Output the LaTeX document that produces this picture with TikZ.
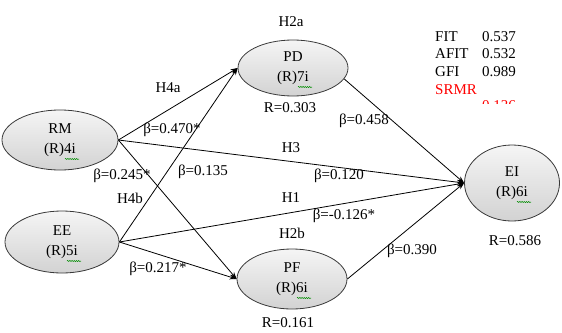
\documentclass[tikz,border=0pt]{standalone}
\usepackage{fontspec}
\setmainfont{Liberation Serif}
\usetikzlibrary{shapes.geometric,arrows.meta,decorations.pathmorphing}
\tikzset{
	latent/.style={ellipse,draw=gray!45!black,line width=0.8pt,top color=gray!8,bottom color=gray!35,
		inner sep=0pt,align=center,font=\fontsize{15}{20}\selectfont},
	link/.style={line width=0.8pt,-{Stealth[length=7pt,width=5pt]}},
	lbl/.style={font=\fontsize{15}{18}\selectfont,inner sep=0pt},
	squig/.style={green!55!black,line width=0.5pt,decorate,decoration={snake,amplitude=0.6pt,segment length=2.2pt}}
}
\begin{document}
\begin{tikzpicture}[x=1pt,y=-1pt]
\useasboundingbox (0,0) rectangle (562,332);
% constructs
\node[latent,minimum width=116pt,minimum height=60pt] (RM) at (60,140) {RM\\(R)4i};
\node[latent,minimum width=114pt,minimum height=62pt] (EE) at (62,242) {EE\\(R)5i};
\node[latent,minimum width=110pt,minimum height=56pt] (PD) at (293,68) {PD\\(R)7i};
\node[latent,minimum width=110pt,minimum height=60pt] (PF) at (292,279) {PF\\(R)6i};
\node[latent,minimum width=95pt,minimum height=76pt] (EI) at (512,183) {EI\\(R)6i};
\foreach \n in {RM,EE,PD,PF,EI} {
	\draw[squig] ([shift={(5,19)}]\n.center) -- ++(14,0);
}
% paths
\draw[link] (RM.east) -- (PD.west);
\draw[link] (EE.east) -- (PD.west);
\draw[link] (RM.east) -- (PF.west);
\draw[link] (EE.east) -- (PF.west);
\draw[link] (RM.east) -- (EI.west);
\draw[link] (EE.east) -- (EI.west);
\draw[link] (PD.-12) -- (EI.west);
\draw[link] (PF.east) -- (EI.west);
% hypotheses and coefficients
\node[lbl] (h2a) at (291,22) {H2a};
\node[lbl] (h2b) at (292,233) {H2b};
\node[lbl] (h4a) at (168,88) {H4a};
\node[lbl] (h4b) at (130,198) {H4b};
\node[lbl] (h3) at (291,148) {H3};
\node[lbl] (h1) at (291,198) {H1};
\node[lbl] (b470) at (172,130) {β=0.470*};
\node[lbl] (b245) at (122,176) {β=0.245*};
\node[lbl] (b135) at (203,172) {β=0.135};
\node[lbl] (b217) at (158,269) {β=0.217*};
\node[lbl] (b458) at (364,121) {β=0.458};
\node[lbl] (b120) at (339,176) {β=0.120};
\node[lbl] (b126) at (344,216) {β=-0.126*};
\node[lbl] (b390) at (412,251) {β=0.390};
\node[lbl] (rpd) at (290,108) {R=0.303};
\node[lbl] (rpf) at (288,323) {R=0.161};
\node[lbl] (rei) at (515,241) {R=0.586};
% fit indices
\node[lbl,anchor=west] (fit) at (435,37) {FIT};
\node[lbl,anchor=west] (vfit) at (482,37) {0.537};
\node[lbl,anchor=west] (afit) at (435,54) {AFIT};
\node[lbl,anchor=west] (vafit) at (482,54) {0.532};
\node[lbl,anchor=west] (gfi) at (435,72) {GFI};
\node[lbl,anchor=west] (vgfi) at (482,72) {0.989};
\node[lbl,anchor=west,red] (srmr) at (435,90) {SRMR};
\begin{scope}
	\clip (470,95) rectangle (530,103);
	\node[lbl,anchor=west,red] (vsrmr) at (482,106) {0.136};
\end{scope}
\end{tikzpicture}
\end{document}
